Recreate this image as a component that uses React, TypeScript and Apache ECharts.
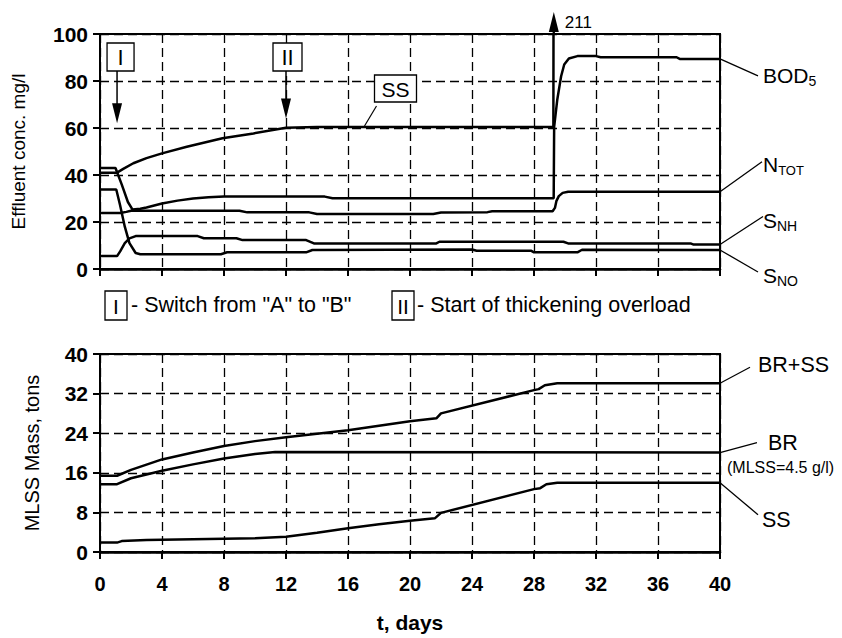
import React, { useEffect, useRef } from "react";
import * as echarts from "echarts";

const FONT = '"Liberation Sans", Arial, Helvetica, sans-serif';

// ---- axes ----
const dayMin = 0;
const dayMax = 40;
const dayStep = 4;
const concMin = 0;
const concMax = 100;
const concStep = 20;
const massMin = 0;
const massMax = 40;
const massStep = 8;

// ---- top panel: effluent concentrations, [day, mg/l] ----
const ssConc: number[][] = [
  [0, 41], [1.1, 41], [1.5, 42.6], [2.15, 45], [3, 47.2], [4, 49.2], [5.6, 52],
  [7.9, 55.6], [9.9, 57.7], [12, 60.1], [14, 60.4], [29.25, 60.4], [29.28, 211],
];
const bod5: number[][] = [
  [0, 43], [1.0, 43], [1.4, 36], [1.8, 28.5], [2.1, 25.3], [2.6, 25.6], [3, 26.2],
  [4, 27.9], [5, 29.1], [6, 30], [7, 30.5], [8, 30.8], [14.5, 30.8], [15, 30.1],
  [29.27, 30.1], [29.3, 60.5], [29.5, 72], [29.75, 82], [29.95, 87], [30.25, 89.6],
  [30.8, 90.6], [32, 90.6], [32.3, 90.1], [37.2, 90.1], [37.4, 89.4], [40, 89.4],
];
const nTot: number[][] = [
  [0, 23.8], [1.3, 23.8], [1.7, 24.3], [2.0, 24.8], [9, 24.8], [9.5, 24.1],
  [13.5, 24.1], [14, 23.4], [21.5, 23.4], [22, 24], [25, 24.2], [25.3, 24.6],
  [29.2, 24.6], [29.35, 26], [29.45, 29], [29.6, 31], [29.85, 32.4], [30.2, 32.9],
  [40, 32.9],
];
const sNh: number[][] = [
  [0, 5.5], [1.1, 5.5], [1.3, 7.5], [1.6, 11], [1.9, 13], [2.3, 14], [6.3, 14],
  [6.7, 13.1], [8.8, 13.1], [9.2, 12.3], [13.3, 12.3], [13.8, 10.9], [21.7, 10.9],
  [21.9, 11.6], [29.9, 11.6], [30.2, 10.9], [38.1, 10.9], [38.3, 10.4], [40, 10.4],
];
const sNo: number[][] = [
  [0, 33.8], [1.05, 33.8], [1.3, 27], [1.6, 18], [1.9, 11], [2.3, 6.8], [2.6, 6.3],
  [7.8, 6.3], [8.2, 7.1], [13.3, 7.1], [13.7, 8.1], [24, 8.3], [24.3, 7.8],
  [27.8, 7.8], [28, 7.1], [30.8, 7.1], [31.1, 8.2], [40, 8.1],
];

// ---- bottom panel: MLSS mass, [day, tons] ----
const massBrSs: number[][] = [
  [0, 15.4], [1.1, 15.4], [2, 16.6], [4, 18.7], [6, 20.1], [8, 21.4], [10, 22.4],
  [12, 23.2], [14, 23.9], [16, 24.6], [18, 25.5], [20, 26.4], [21.7, 27.0],
  [22, 28.0], [28, 32.7], [28.3, 32.9], [28.7, 33.7], [29.5, 34.1], [40, 34.1],
];
const massBr: number[][] = [
  [0, 13.7], [1.1, 13.7], [2, 14.9], [4, 16.4], [6, 17.7], [8, 18.9], [10, 19.8],
  [11.3, 20.2], [40, 20.1],
];
const massSs: number[][] = [
  [0, 1.9], [1.1, 1.9], [1.4, 2.2], [3, 2.4], [6, 2.6], [10, 2.8], [12, 3.1],
  [14, 3.9], [16, 4.8], [18, 5.6], [20, 6.3], [21.6, 6.8], [22, 7.9], [28, 12.7],
  [28.4, 12.9], [28.8, 13.7], [29.5, 14.0], [40, 14.0],
];

// ---- annotations ----
const switchDay = 1.1;
const overloadDay = 12;
const ssSpikeDay = 29.28;
const ssPeakLabel = "211";
const ssLabelDay = 17;

function axisX(gridIndex: number, showLabels: boolean) {
  return {
    gridIndex,
    type: "value",
    min: dayMin,
    max: dayMax,
    interval: dayStep,
    axisLine: { show: true, onZero: false, lineStyle: { color: "#000", width: 2.5 } },
    axisTick: { show: true, length: 7, lineStyle: { color: "#000", width: 2 } },
    axisLabel: {
      show: showLabels,
      margin: 22,
      color: "#000",
      fontFamily: FONT,
      fontWeight: "bold",
      fontSize: 20,
    },
    splitLine: { show: true, lineStyle: { color: "#000", width: 1.3, type: [9, 5] } },
  };
}

function axisY(gridIndex: number, min: number, max: number, step: number, name: string, gap: number, nameSize: number) {
  return {
    gridIndex,
    type: "value",
    min,
    max,
    interval: step,
    name,
    nameLocation: "middle",
    nameGap: gap,
    nameTextStyle: { color: "#000", fontFamily: FONT, fontSize: nameSize },
    axisLine: { show: true, onZero: false, lineStyle: { color: "#000", width: 2 } },
    axisTick: { show: true, length: 7, lineStyle: { color: "#000", width: 2 } },
    axisLabel: {
      margin: 12,
      color: "#000",
      fontFamily: FONT,
      fontWeight: "bold",
      fontSize: 21,
    },
    splitLine: { show: true, lineStyle: { color: "#000", width: 1.3, type: [9, 5] } },
  };
}

function lineSeries(name: string, data: number[][], gi: number) {
  return {
    type: "line",
    name,
    data,
    xAxisIndex: gi,
    yAxisIndex: gi,
    symbol: "none",
    clip: true,
    lineStyle: { color: "#000", width: 2.5 },
    z: 5,
  };
}

export default function App() {
  const ref = useRef<HTMLDivElement>(null);

  useEffect(() => {
    if (!ref.current) return;
    const chart = echarts.init(ref.current, undefined, { renderer: "svg" });
    const option: any = {
      animation: false,
      backgroundColor: "#fff",
      grid: [
        { left: 100, top: 34, width: 620, height: 235, show: true, borderColor: "#000", borderWidth: 2, backgroundColor: "transparent" },
        { left: 100, top: 354, width: 620, height: 198, show: true, borderColor: "#000", borderWidth: 2, backgroundColor: "transparent" },
      ],
      xAxis: [
        axisX(0, false),
        {
          ...axisX(1, true),
          name: "t, days",
          nameLocation: "middle",
          nameGap: 60,
          nameTextStyle: { color: "#000", fontFamily: FONT, fontSize: 21, fontWeight: "bold" },
        },
      ],
      yAxis: [
        axisY(0, concMin, concMax, concStep, "Effluent conc. mg/l", 72, 19),
        axisY(1, massMin, massMax, massStep, "MLSS Mass, tons", 58, 20),
      ],
      series: [
        lineSeries("SS", ssConc, 0),
        lineSeries("BOD5", bod5, 0),
        lineSeries("N_TOT", nTot, 0),
        lineSeries("S_NH", sNh, 0),
        lineSeries("S_NO", sNo, 0),
        lineSeries("BR+SS", massBrSs, 1),
        lineSeries("BR", massBr, 1),
        lineSeries("SS mass", massSs, 1),
      ],
    };
    chart.setOption(option);

    const pt = (gi: number, x: number, y: number) =>
      chart.convertToPixel({ gridIndex: gi } as any, [x, y]) as number[];
    const els: any[] = [];
    const seg = (x1: number, y1: number, x2: number, y2: number, w = 1.5) =>
      els.push({ type: "line", silent: true, z: 10, shape: { x1, y1, x2, y2 }, style: { stroke: "#000", lineWidth: w } });
    const txt = (x: number, y: number, t: string, size: number, align = "left", weight = "normal") =>
      els.push({
        type: "text", silent: true, z: 10, x, y,
        style: { text: t, fill: "#000", fontFamily: FONT, fontSize: size, fontWeight: weight, align, verticalAlign: "middle" },
      });
    const box = (x: number, y: number, w: number, h: number) =>
      els.push({ type: "rect", silent: true, z: 10, shape: { x, y, width: w, height: h }, style: { fill: "#fff", stroke: "#000", lineWidth: 1.3 } });
    const headDown = (x: number, tipY: number) =>
      els.push({
        type: "polygon", silent: true, z: 10,
        shape: { points: [[x - 5, tipY - 20], [x + 5, tipY - 20], [x, tipY]] },
        style: { fill: "#000" },
      });
    const headUp = (x: number, tipY: number) =>
      els.push({
        type: "polygon", silent: true, z: 10,
        shape: { points: [[x - 5, tipY + 20], [x + 5, tipY + 20], [x, tipY]] },
        style: { fill: "#000" },
      });
    const sub = (x: number, y: number, main: string, s: string, size = 21, subSize = 14) =>
      els.push({
        type: "text", silent: true, z: 10, x, y,
        style: {
          text: `{m|${main}}{s|${s}}`,
          align: "left",
          verticalAlign: "middle",
          rich: {
            m: { fontFamily: FONT, fontSize: size, lineHeight: 25, fill: "#000" },
            s: { fontFamily: FONT, fontSize: subSize, lineHeight: 14, verticalAlign: "bottom", fill: "#000" },
          },
        },
      });

    // top panel annotation arrows
    const gTop = pt(0, 0, concMax)[1];
    const [ax1] = pt(0, switchDay, 0);
    const [ax2] = pt(0, overloadDay, 0);
    const tip1 = pt(0, switchDay, 62)[1];
    const tip2 = pt(0, overloadDay, 64)[1];
    box(ax1 - 10, gTop + 9, 27, 28);
    txt(ax1 + 3.5, gTop + 23, "I", 22, "center");
    seg(ax1, gTop + 37, ax1, tip1 - 16, 1.5);
    headDown(ax1, tip1);
    box(ax2 - 13, gTop + 9, 29, 28);
    txt(ax2 + 1.5, gTop + 23, "II", 22, "center");
    seg(ax2, gTop + 37, ax2, tip2 - 16, 1.5);
    headDown(ax2, tip2);

    // SS label box
    const ssPt = pt(0, ssLabelDay, 60.4);
    box(ssPt[0] + 11, gTop + 41, 42, 27);
    txt(ssPt[0] + 32, gTop + 55, "SS", 21, "center");
    seg(ssPt[0] + 1, ssPt[1] - 1, ssPt[0] + 13, gTop + 72, 1.2);

    // spike arrow (211)
    const sp = pt(0, ssSpikeDay, concMax);
    seg(sp[0], sp[1], sp[0], sp[1] - 14, 2.2);
    headUp(sp[0], sp[1] - 22);
    txt(sp[0] + 11, sp[1] - 12, ssPeakLabel, 17);

    // top right labels
    const e = (arr: number[][]) => arr[arr.length - 1];
    const pB = pt(0, dayMax, e(bod5)[1]);
    seg(pB[0], pB[1], pB[0] + 38, pB[1] + 17, 1.3);
    sub(pB[0] + 43, pB[1] + 17, "BOD", "5");
    const pN = pt(0, dayMax, e(nTot)[1]);
    seg(pN[0], pN[1], pN[0] + 42, pN[1] - 30, 1.3);
    sub(pN[0] + 43, pN[1] - 27, "N", "TOT", 21, 13);
    const pH = pt(0, dayMax, e(sNh)[1]);
    seg(pH[0], pH[1], pH[0] + 43, pH[1] - 28, 1.3);
    sub(pH[0] + 43, pH[1] - 24, "S", "NH");
    const pO = pt(0, dayMax, e(sNo)[1]);
    seg(pO[0], pO[1], pO[0] + 38, pO[1] + 22, 1.3);
    sub(pO[0] + 43, pO[1] + 26, "S", "NO");

    // legend row
    box(105, 291, 22, 29);
    txt(116, 306, "I", 21, "center");
    txt(131, 305, '- Switch from "A" to "B"', 21.5);
    box(392, 291, 22, 29);
    txt(403, 306, "II", 21, "center");
    txt(417, 305, "- Start of thickening overload", 21.5);

    // bottom right labels
    const q1 = pt(1, dayMax, e(massBrSs)[1]);
    seg(q1[0], q1[1], q1[0] + 30, q1[1] - 16, 1.3);
    txt(q1[0] + 38, q1[1] - 18, "BR+SS", 21.5);
    const q2 = pt(1, dayMax, e(massBr)[1]);
    seg(q2[0], q2[1], q2[0] + 37, q2[1] - 10, 1.3);
    txt(q2[0] + 48, q2[1] - 10, "BR", 21.5);
    txt(q2[0] + 7, q2[1] + 15, "(MLSS=4.5 g/l)", 16);
    const q3 = pt(1, dayMax, e(massSs)[1]);
    seg(q3[0], q3[1], q3[0] + 38, q3[1] + 32, 1.3);
    txt(q3[0] + 42, q3[1] + 37, "SS", 21.5);

    chart.setOption({ graphic: { elements: els } });

    return () => chart.dispose();
  }, []);

  return (
    <div
      ref={ref}
      style={{ position: "fixed", left: 0, top: 0, width: 842, height: 638, background: "#fff" }}
    />
  );
}
